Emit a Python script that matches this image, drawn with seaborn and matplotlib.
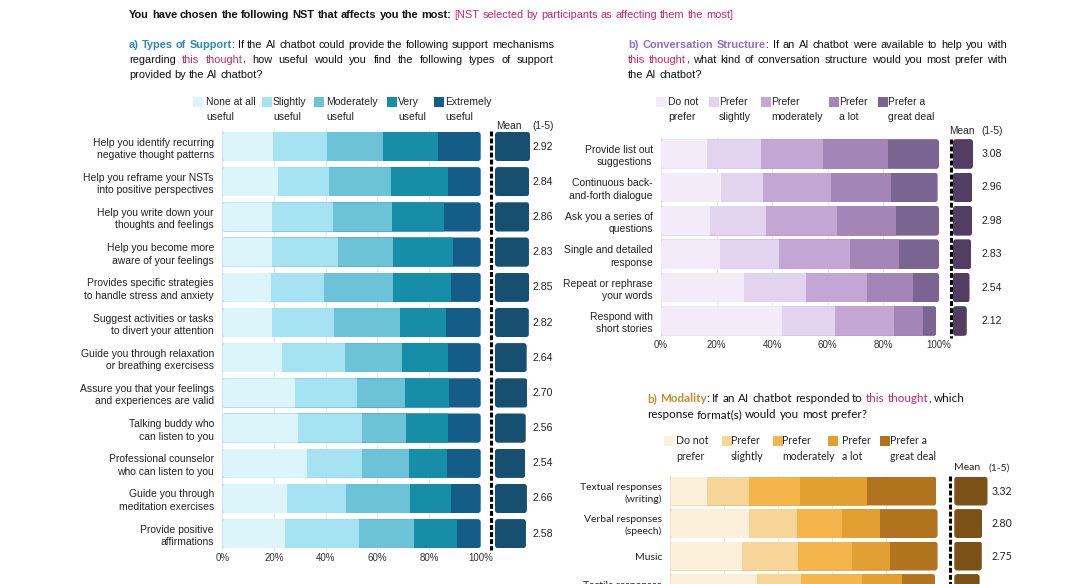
import numpy as np
import pandas as pd
import matplotlib
matplotlib.use("Agg")
import matplotlib.pyplot as plt
import seaborn as sns
from matplotlib.lines import Line2D
from matplotlib.patches import Rectangle, FancyBboxPatch

# --- data -------------------------------------------------------------
support_items = [
    "Help you identify recurring\nnegative thought patterns",
    "Help you reframe your NSTs\ninto positive perspectives",
    "Help you write down your\nthoughts and feelings",
    "Help you become more\naware of your feelings",
    "Provides specific strategies\nto handle stress and anxiety",
    "Suggest activities or tasks\nto divert your attention",
    "Guide you through relaxation\nor breathing exercisess",
    "Assure you that your feelings\nand experiences are valid",
    "Talking buddy who\ncan listen to you",
    "Professional counselor\nwho can listen to you",
    "Guide you through\nmeditation exercises",
    "Provide positive\naffirmations",
]
support_levels = ["None at all\nuseful", "Slightly\nuseful", "Moderately\nuseful", "Very\nuseful", "Extremely\nuseful"]
support_none = [19.7, 21.7, 19.2, 19.2, 18.7, 19.2, 23.2, 28.3, 29.2, 32.8, 25.2, 24.3]
support_slight = [20.7, 19.7, 23.8, 25.7, 20.8, 24.1, 24.3, 23.7, 24.9, 21.3, 22.7, 28.6]
support_moder = [21.7, 23.8, 22.7, 21.3, 26.7, 25.5, 22.2, 18.7, 17.0, 18.0, 24.7, 21.3]
support_very = [21.3, 22.0, 20.2, 23.2, 22.3, 17.8, 17.8, 17.1, 16.1, 14.7, 15.8, 16.6]
support_extreme = [16.6, 12.8, 14.1, 10.6, 11.5, 13.4, 12.5, 12.2, 12.8, 13.2, 11.6, 9.2]
support_mean = [2.92, 2.84, 2.86, 2.83, 2.85, 2.82, 2.64, 2.70, 2.56, 2.54, 2.66, 2.58]

struct_items = [
    "Provide list out\nsuggestions",
    "Continuous back-\nand-forth dialogue",
    "Ask you a series of\nquestions",
    "Single and detailed\nresponse",
    "Repeat or rephrase\nyour words",
    "Respond with\nshort stories",
]
pref_levels = ["Do not\nprefer", "Prefer\nslightly", "Prefer\nmoderately", "Prefer\na lot", "Prefer a\ngreat deal"]
struct_not = [16.4, 21.6, 17.6, 21.2, 30.0, 43.5]
struct_slight = [19.6, 15.0, 20.1, 21.4, 22.2, 19.2]
struct_moder = [22.2, 24.6, 25.5, 25.5, 21.8, 21.1]
struct_lot = [23.6, 21.4, 21.5, 17.6, 16.8, 10.3]
struct_great = [18.2, 16.9, 15.3, 14.3, 9.2, 5.0]
struct_mean = [3.08, 2.96, 2.98, 2.83, 2.54, 2.12]

modal_items = [
    "Textual responses\n(writing)",
    "Verbal responses\n(speech)",
    "Music",
    "Tactile responses\n(touch)",
]
modal_not = [13.5, 29.0, 26.6, 32.0]
modal_slight = [15.5, 18.0, 20.7, 16.4]
modal_moder = [19.1, 16.8, 20.1, 22.7]
modal_lot = [24.8, 14.1, 14.1, 14.8]
modal_great = [25.8, 21.2, 17.6, 12.4]
modal_mean = [3.32, 2.80, 2.75, 2.53]

# --- colours -------------------------------------------------------------
blues = ["#dcf5fb", "#a5e3f3", "#6cc2d7", "#168ea8", "#155d89"]
purples = ["#f3ebf8", "#e2d3ee", "#c4a6d4", "#a485b7", "#7a6491"]
oranges = ["#fdf0db", "#f7d497", "#f4b54b", "#e1a031", "#b2731e"]
MAGENTA = "#c8266f"

sns.set_style("white")
plt.rcParams["font.family"] = ["Liberation Sans", "DejaVu Sans"]
SANS = ["Liberation Sans", "DejaVu Sans"]
GEO = ["Lato", "DejaVu Sans"]

W, H = 1090, 584
fig = plt.figure(figsize=(W / 100, H / 100), dpi=100)
renderer = fig.canvas.get_renderer()


def fx(x):
    return x / W


def fy(y):
    return 1 - y / H


def add_ax(x0, x1, y0, y1):
    return fig.add_axes([fx(x0), fy(y1), (x1 - x0) / W, (y1 - y0) / H])


def text_w(s, size, family, weight="normal"):
    t = fig.text(0, 0, s, fontsize=size, family=family, fontweight=weight)
    w = t.get_window_extent(renderer).width
    t.remove()
    return w


def rich(x, y, parts, size, family, width=None):
    # one line made of coloured runs, optionally justified to width px
    chars = []
    for text, color, weight in parts:
        chars += [(c, color, weight) for c in text]
    words, cur = [], []
    for c, color, weight in chars:
        if c == " ":
            if cur:
                words.append(cur)
            cur = []
            continue
        if cur and cur[-1][1] == color and cur[-1][2] == weight:
            cur[-1][0] += c
        else:
            cur.append([c, color, weight])
    if cur:
        words.append(cur)
    made = []
    for w in words:
        runs = []
        for text, color, weight in w:
            t = fig.text(0, fy(y), text, color=color, fontweight=weight, fontsize=size,
                         family=family, va="baseline", ha="left")
            runs.append((t, t.get_window_extent(renderer).width))
        made.append(runs)
    widths = [sum(r[1] for r in runs) for runs in made]
    gap = text_w("n n", size, family) - text_w("nn", size, family)
    if width is not None and len(made) > 1:
        gap = (width - sum(widths)) / (len(made) - 1)
    pos = x
    for runs, wd in zip(made, widths):
        p = pos
        for t, tw in runs:
            t.set_x(fx(p))
            p += tw
        pos += wd + gap


def legend(xs_patch, xs_text, y1, y2, labels, colors, size, family):
    for xp, xt, lab, col in zip(xs_patch, xs_text, labels, colors):
        fig.patches.append(Rectangle((fx(xp), fy(y1 + 5)), 10 / W, 10 / H, transform=fig.transFigure,
                                     facecolor=col, edgecolor="none"))
        l1, l2 = lab.split("\n")
        fig.text(fx(xt), fy(y1), l1, fontsize=size, family=family, va="center", ha="left", color="#222222")
        fig.text(fx(xt), fy(y2), l2, fontsize=size, family=family, va="center", ha="left", color="#222222")


def round_rows(ax, totals, height, px_x, px_y, radius=3):
    # clip every bar of a row to one rounded box spanning the whole row
    rx = radius / px_x
    ry = radius / px_y
    clips = []
    for i, tot in enumerate(totals):
        clips.append(FancyBboxPatch((0, i - height / 2), tot, height,
                                    boxstyle=f"round,pad=0,rounding_size={rx}",
                                    mutation_aspect=ry / rx, transform=ax.transData))
    for p in ax.patches:
        i = int(round(p.get_y() + p.get_height() / 2))
        p.set_clip_path(clips[i])


def stacked(ax, items, levels, colors, height, family, px_x, px_y, ticks=True):
    cum = np.cumsum(np.array(levels), axis=0)
    for k in range(len(levels) - 1, -1, -1):
        df = pd.DataFrame({"item": items, "value": cum[k]})
        sns.barplot(data=df, x="value", y="item", orient="h", color=colors[k], saturation=1,
                    width=height, linewidth=0, edgecolor="none", ax=ax)
    round_rows(ax, cum[-1], height, px_x, px_y)
    ax.set_xlim(0, 100)
    ax.set_ylim(len(items) - 0.5, -0.5)
    ax.set_xticks([0, 20, 40, 60, 80, 100])
    ax.set_xticklabels([f"{v}%" for v in range(0, 101, 20)], fontsize=7.0, family=family, color="#333333")
    ax.set_yticks(range(len(items)))
    ax.set_yticklabels(items, fontsize=7.5, family=family, color="#222222", linespacing=1.3)
    ax.tick_params(axis="both", length=0)
    ax.tick_params(axis="y", pad=6)
    ax.tick_params(axis="x", pad=1.5)
    ax.set_xlabel("")
    ax.set_ylabel("")
    ax.grid(axis="x", color="#e6e6e6", lw=0.8)
    ax.set_axisbelow(True)
    sns.despine(ax=ax, left=True, bottom=True)
    if not ticks:
        ax.set_xticklabels([])


def mean_bars(ax, items, means, color, height, xmax, label_x, family, px_x, px_y):
    df = pd.DataFrame({"item": items, "mean": means})
    sns.barplot(data=df, x="mean", y="item", orient="h", color=color, saturation=1,
                width=height, linewidth=0, edgecolor="none", ax=ax)
    round_rows(ax, means, height, px_x, px_y)
    ax.set_xlim(0, xmax)
    ax.set_ylim(len(items) - 0.5, -0.5)
    ax.axis("off")
    for i, m in enumerate(means):
        ax.text(label_x, i, f"{m:.2f}", ha="center", va="center", fontsize=7.6, family=family,
                color="#222222", clip_on=False)


def dashed(x, y0, y1):
    fig.add_artist(Line2D([fx(x), fx(x)], [fy(y0), fy(y1)], transform=fig.transFigure,
                          color="black", lw=2.2, linestyle=(0, (1.6, 0.7))))


# --- title ---------------------------------------------------------------
rich(129, 18, [("You have chosen the following NST that affects you the most: ", "#111111", "bold"),
               ("[NST selected by participants as affecting them the most]", MAGENTA, "normal")], 7.9, SANS)

# --- a) Types of Support ------------------------------------------------
rich(129, 48, [("a) Types of Support", "#2f88b8", "bold"),
               (": If the AI chatbot could provide the following support mechanisms", "#111111", "normal")],
     7.9, SANS, width=425)
rich(129, 63, [("regarding ", "#111111", "normal"), ("this thought", MAGENTA, "normal"),
               (", how useful would you find the following types of support", "#111111", "normal")],
     7.9, SANS, width=425)
rich(129, 78, [("provided by the AI chatbot?", "#111111", "normal")], 7.9, SANS)
legend([193, 262, 314, 387, 434], [206, 273, 326, 398, 445], 102, 117, support_levels, blues, 7.5, SANS)
fig.text(fx(509), fy(126), "Mean", ha="center", va="center", fontsize=7.3, family=SANS)
fig.text(fx(543), fy(126), "(1-5)", ha="center", va="center", fontsize=7.3, family=SANS)

ax_a = add_ax(222.3, 480.7, 128.9, 551.3)
stacked(ax_a, support_items,
        [support_none, support_slight, support_moder, support_very, support_extreme], blues, 0.83, SANS,
        2.584, 35.2)
ax_am = add_ax(495, 555, 128.9, 551.3)
mean_bars(ax_am, support_items, support_mean, "#174f70", 0.83, 5, 4.0, SANS, 12, 35.2)
dashed(490.5, 131, 550)

# --- b) Conversation Structure --------------------------------------------
rich(628, 48, [("b) Conversation Structure", "#8b70c4", "bold"),
               (":  If an AI chatbot were available to help you with", "#111111", "normal")],
     7.9, SANS, width=379)
rich(628, 63, [("this thought", MAGENTA, "normal"),
               (", what kind of conversation structure would you most prefer with", "#111111", "normal")],
     7.9, SANS, width=379)
rich(628, 78, [("the AI chatbot?", "#111111", "normal")], 7.9, SANS)
legend([656, 709, 761, 829, 878], [668, 719, 771, 839, 888], 102, 117, pref_levels, purples, 7.5, SANS)
fig.text(fx(962), fy(131), "Mean", ha="center", va="center", fontsize=7.3, family=SANS)
fig.text(fx(992), fy(131), "(1-5)", ha="center", va="center", fontsize=7.3, family=SANS)

ax_b = add_ax(661, 939, 137.3, 337.7)
stacked(ax_b, struct_items,
        [struct_not, struct_slight, struct_moder, struct_lot, struct_great], purples, 0.89, SANS,
        2.78, 33.4)
ax_bm = add_ax(953, 1005, 137.3, 337.7)
mean_bars(ax_bm, struct_items, struct_mean, "#523e63", 0.89, 8, 6.0, SANS, 6.5, 33.4)
dashed(950.7, 139, 338)

# --- b) Modality -----------------------------------------------------------
rich(647, 402, [("b) Modality", "#c98a2a", "bold"),
                (": If an AI chatbot responded to ", "#111111", "normal"),
                ("this thought", MAGENTA, "normal"), (", which", "#111111", "normal")], 8.4, GEO)
rich(647, 418, [("response format(s) would you most prefer?", "#111111", "normal")], 8.4, GEO)
legend([664, 722, 773, 828, 880], [676, 731, 782, 842, 890], 441, 456, pref_levels, oranges, 7.6, GEO)
fig.text(fx(967), fy(468), "Mean", ha="center", va="center", fontsize=7.5, family=GEO)
fig.text(fx(999), fy(468), "(1-5)", ha="center", va="center", fontsize=7.5, family=GEO)

ax_c = add_ax(670.3, 940, 474.8, 604.8)
stacked(ax_c, modal_items,
        [modal_not, modal_slight, modal_moder, modal_lot, modal_great], oranges, 0.89, GEO,
        2.697, 32.5, ticks=False)
ax_cm = add_ax(954.3, 1014.3, 474.8, 604.8)
mean_bars(ax_cm, modal_items, modal_mean, "#7b5117", 0.89, 6, 4.8, GEO, 10, 32.5)
dashed(950, 476, 600)

fig.savefig("out.png", dpi=100, facecolor="white")
